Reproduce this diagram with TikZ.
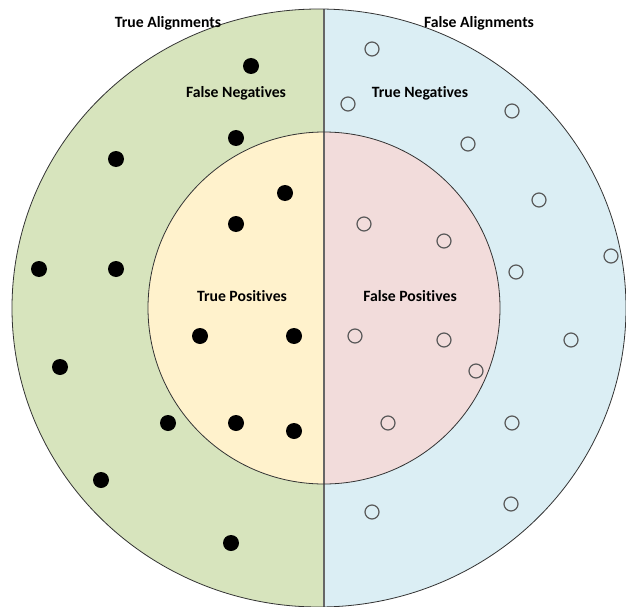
\documentclass[tikz,border=0pt]{standalone}
\usepackage{fontspec}
\setmainfont{Carlito}[Ligatures=NoCommon]

\definecolor{alignedgreen}{HTML}{D7E4BD}
\definecolor{wrongblue}{HTML}{DBEEF4}
\definecolor{tpyellow}{HTML}{FFF2CC}
\definecolor{fppink}{HTML}{F2DCDB}

\begin{document}
\begin{tikzpicture}[x=1pt,y=-1pt]
\useasboundingbox (0,0) rectangle (626,607);

    \tikzstyle{hit}=[circle, fill=black, draw=none, inner sep=0pt, minimum size=16pt];
    \tikzstyle{miss}=[circle, draw=black!65, line width=1.2pt, inner sep=0pt, minimum size=14pt];
    \tikzstyle{area}=[font=\fontsize{15.7}{18}\selectfont\bfseries, text=black, inner sep=1pt];

% outer ellipse, split in two halves
\begin{scope}
\clip (319,308) ellipse [x radius=307pt, y radius=299pt];
 \fill[alignedgreen] (0,0) rectangle (324,620);
 \fill[wrongblue] (324,0) rectangle (640,620);
\end{scope}

% inner circle
\begin{scope}
\clip (324,308) circle [radius=176pt];
 \fill[tpyellow] (100,100) rectangle (324,500);
 \fill[fppink] (324,100) rectangle (520,500);
\end{scope}

\draw[black!60, line width=1.5pt] (324,9) -- (324,607);
\draw[black!80, line width=0.8pt] (319,308) ellipse [x radius=307pt, y radius=299pt];
\draw[black!80, line width=0.8pt] (324,308) circle [radius=176pt];

% labels
\node[area] (truealign) at (168,23) {True Alignments};
\node[area] (falsealign) at (479,23) {False Alignments};
\node[area] (fnlabel) at (236,93) {False Negatives};
\node[area] (tnlabel) at (420,93) {True Negatives};
\node[area] (tplabel) at (242,296) {True Positives};
\node[area] (fplabel) at (410,296) {False Positives};

% false negatives
\node[hit] (fn1) at (251,66) {};
\node[hit] (fn2) at (236,138) {};
\node[hit] (fn3) at (116,159) {};
\node[hit] (fn4) at (39,269) {};
\node[hit] (fn5) at (116,269) {};
\node[hit] (fn6) at (60,367) {};
\node[hit] (fn7) at (168,423) {};
\node[hit] (fn8) at (101,480) {};
\node[hit] (fn9) at (231,543) {};

% true positives
\node[hit] (tp1) at (285,193) {};
\node[hit] (tp2) at (236,224) {};
\node[hit] (tp3) at (200,336) {};
\node[hit] (tp4) at (294,336) {};
\node[hit] (tp5) at (236,423) {};
\node[hit] (tp6) at (294,431) {};

% false positives
\node[miss] (fp1) at (364,224) {};
\node[miss] (fp2) at (444,241) {};
\node[miss] (fp3) at (355,336) {};
\node[miss] (fp4) at (444,340) {};
\node[miss] (fp5) at (476,371) {};
\node[miss] (fp6) at (388,423) {};

% true negatives
\node[miss] (tn1) at (372,49) {};
\node[miss] (tn2) at (348,104) {};
\node[miss] (tn3) at (512,111) {};
\node[miss] (tn4) at (468,144) {};
\node[miss] (tn5) at (539,200) {};
\node[miss] (tn6) at (611,256) {};
\node[miss] (tn7) at (516,272) {};
\node[miss] (tn8) at (571,340) {};
\node[miss] (tn9) at (512,423) {};
\node[miss] (tn10) at (511,504) {};
\node[miss] (tn11) at (372,512) {};
\end{tikzpicture}
\end{document}
